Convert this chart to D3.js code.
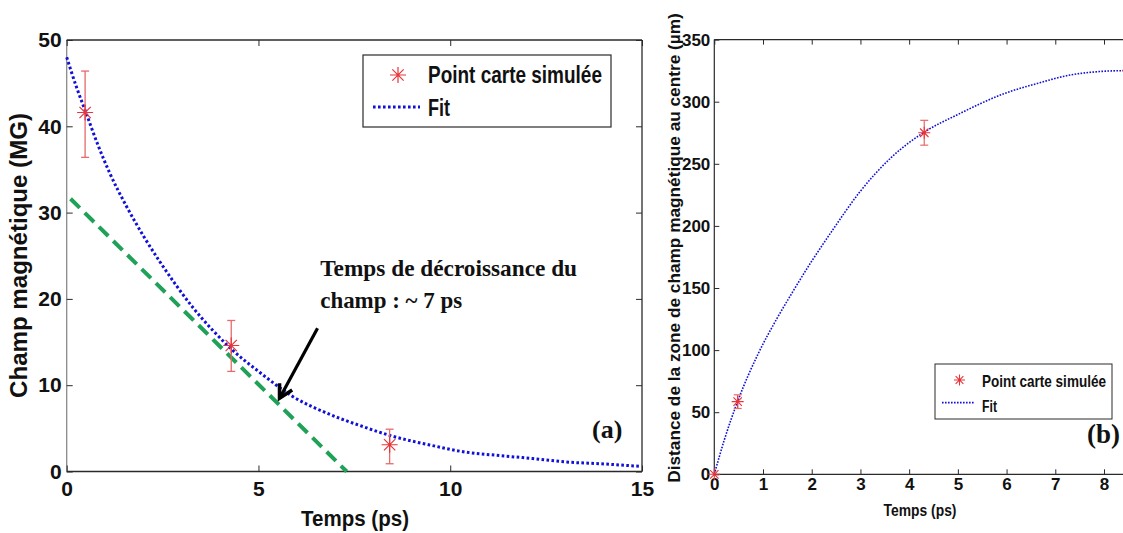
<!DOCTYPE html>
<html>
<head>
<meta charset="utf-8">
<script src="https://cdn.jsdelivr.net/npm/d3@7"></script>
<style>
  html, body { margin: 0; padding: 0; background: #fff; }
  svg { display: block; }
</style>
</head>
<body>
<svg id="chart" width="1123" height="533"></svg>
<script>
// ---------------- DATA ----------------
// Panel (a): magnetic field vs time
const pointTimeA  = [0.48, 4.29, 8.42];
const pointFieldA = [41.6, 14.6, 3.1];
const errLowA     = [36.4, 11.6, 0.9];
const errHighA    = [46.4, 17.5, 4.9];

const fitTimeA  = [0, 0.25, 0.5, 0.8, 1.13, 1.55, 2.0, 2.43, 2.85, 3.29, 3.8, 4.29, 5.03, 5.89, 6.76, 7.63, 8.41, 9.54, 10.4, 11.28, 12.15, 13.03, 13.9, 14.95];
const fitFieldA = [48.0, 44.6, 41.6, 38.0, 34.5, 30.8, 27.3, 24.3, 21.6, 19.0, 16.4, 14.2, 11.5, 8.7, 6.8, 5.35, 4.2, 3.0, 2.25, 1.85, 1.5, 1.1, 0.9, 0.6];

const tangentTimeA  = [0.1, 7.3];
const tangentFieldA = [31.6, 0];

const xTicksA = [0, 5, 10, 15];
const yTicksA = [0, 10, 20, 30, 40, 50];

// Panel (b): distance of the field zone from centre vs time
const pointTimeB = [0, 0.48, 4.31, 8.5];
const pointDistB = [0, 58.5, 275, 325];
const errLowB    = [null, 53, 265, null];
const errHighB   = [null, 64, 285, null];

const fitTimeB = [0, 0.2, 0.49, 0.9, 1.28, 1.58, 1.99, 2.4, 2.98, 3.63, 4.31, 4.99, 5.95, 6.63, 7.31, 7.99, 8.39];
const fitDistB = [0, 27, 59.8, 97, 125, 145, 171, 195, 227, 255, 275.5, 289.5, 306.5, 314.7, 321.5, 324.5, 325];

const xTicksB = [0, 1, 2, 3, 4, 5, 6, 7, 8];
const yTicksB = [0, 50, 100, 150, 200, 250, 300, 350];

// Texts
const legendLabels = ["Point carte simulée", "Fit"];
const xTitle = "Temps (ps)";
const yTitleA = "Champ magnétique (MG)";
const yTitleB = "Distance de la zone de champ magnétique au centre (µm)";
const annotationLines = ["Temps de décroissance du", "champ : ~ 7 ps"];

// ---------------- STYLE ----------------
const SANS = "'Liberation Sans Narrow','Arial Narrow','Liberation Sans',Arial,sans-serif";
const SERIF = "'Liberation Serif','Times New Roman',serif";
const AXIS = "#2a2a2a";
const RED = "#e8343a";
const ERR = "#e86a6a";
const BLUE = "#1010d8";
const GREEN = "#1fa257";

const svg = d3.select("#chart");
svg.append("rect").attr("width", 1123).attr("height", 533).attr("fill", "#fff");

function asterisk(g, cx, cy, r, color, w) {
  const d = r * Math.SQRT1_2;
  const p = `M${cx - r},${cy}L${cx + r},${cy}M${cx},${cy - r}L${cx},${cy + r}` +
            `M${cx - d},${cy - d}L${cx + d},${cy + d}M${cx - d},${cy + d}L${cx + d},${cy - d}`;
  g.append("path").attr("d", p).attr("stroke", color).attr("stroke-width", w).attr("fill", "none");
}

// text fitted to a target length through a horizontal scale
function fitText(parent, x, y, str, len, opt) {
  const rot = opt.rotate || 0;
  const g = parent.append("g");
  const t = g.append("text").attr("x", 0).attr("y", 0).text(str)
    .attr("font-family", opt.family).attr("font-weight", "bold").attr("font-size", opt.size)
    .attr("text-anchor", opt.anchor || "start").attr("fill", "#111");
  const natural = t.node().getComputedTextLength() || len;
  const s = len / natural;
  g.attr("transform", `translate(${x},${y}) rotate(${rot}) scale(${s},1)`);
  return g;
}

function styleTicks(g, size) {
  g.select(".domain").remove();
  g.selectAll(".tick line").attr("stroke", AXIS).attr("stroke-width", 1);
  g.selectAll(".tick text").attr("fill", "#111").attr("font-family", SANS)
    .attr("font-weight", "bold").attr("font-size", size);
}

// ================= PANEL (a) =================
const xA = d3.scaleLinear().domain([0, 15]).range([66.7, 642]);
const yA = d3.scaleLinear().domain([0, 50]).range([471.5, 40]);
const gA = svg.append("g");

gA.append("line").attr("x1", xA(0)).attr("x2", xA(0)).attr("y1", yA(0)).attr("y2", yA(50)).attr("stroke", "#8a8a8a").attr("stroke-width", 1.3);
gA.append("line").attr("x1", xA(0)).attr("x2", xA(15)).attr("y1", yA(0)).attr("y2", yA(0)).attr("stroke", AXIS).attr("stroke-width", 1.3);
gA.append("line").attr("x1", xA(0)).attr("x2", xA(15)).attr("y1", yA(50)).attr("y2", yA(50)).attr("stroke", AXIS).attr("stroke-width", 1.3);
gA.append("line").attr("x1", xA(15)).attr("x2", xA(15)).attr("y1", yA(0)).attr("y2", yA(50)).attr("stroke", AXIS).attr("stroke-width", 1.3);

const axBA = gA.append("g").attr("transform", `translate(0,${yA(0)})`)
  .call(d3.axisBottom(xA).tickValues(xTicksA).tickSizeInner(-6).tickSizeOuter(0).tickPadding(10).tickFormat(d3.format("d")));
styleTicks(axBA, 21);
const axLA = gA.append("g").attr("transform", `translate(${xA(0)},0)`)
  .call(d3.axisLeft(yA).tickValues(yTicksA).tickSizeInner(-6).tickSizeOuter(0).tickPadding(5).tickFormat(d3.format("d")));
styleTicks(axLA, 21);
const axTA = gA.append("g").attr("transform", `translate(0,${yA(50)})`)
  .call(d3.axisTop(xA).tickValues(xTicksA).tickSizeInner(-6).tickSizeOuter(0).tickFormat(""));
styleTicks(axTA, 0);
const axRA = gA.append("g").attr("transform", `translate(${xA(15)},0)`)
  .call(d3.axisRight(yA).tickValues(yTicksA).tickSizeInner(-6).tickSizeOuter(0).tickFormat(""));
styleTicks(axRA, 0);

gA.append("path")
  .attr("d", d3.line().x((d, i) => xA(tangentTimeA[i])).y((d, i) => yA(tangentFieldA[i]))(tangentTimeA))
  .attr("stroke", GREEN).attr("stroke-width", 4).attr("stroke-dasharray", "13,7").attr("fill", "none");

gA.append("path")
  .attr("d", d3.line().curve(d3.curveMonotoneX).x((d, i) => xA(fitTimeA[i])).y((d, i) => yA(fitFieldA[i]))(fitTimeA))
  .attr("stroke", BLUE).attr("stroke-width", 3).attr("stroke-dasharray", "2.6,2.4").attr("fill", "none");

pointTimeA.forEach((t, i) => {
  const cx = xA(t);
  gA.append("line").attr("x1", cx).attr("x2", cx).attr("y1", yA(errLowA[i])).attr("y2", yA(errHighA[i])).attr("stroke", ERR).attr("stroke-width", 1.3);
  [errLowA[i], errHighA[i]].forEach(v => {
    gA.append("line").attr("x1", cx - 4).attr("x2", cx + 4).attr("y1", yA(v)).attr("y2", yA(v)).attr("stroke", ERR).attr("stroke-width", 1.3);
  });
  asterisk(gA, cx, yA(pointFieldA[i]), 8, RED, 1.2);
});

const arrowFrom = [6.54, 16.6], arrowTo = [5.55, 8.5];
{
  const x1 = xA(arrowFrom[0]), y1 = yA(arrowFrom[1]), x2 = xA(arrowTo[0]), y2 = yA(arrowTo[1]);
  gA.append("line").attr("x1", x1).attr("y1", y1).attr("x2", x2).attr("y2", y2).attr("stroke", "#000").attr("stroke-width", 3.2);
  const ang = Math.atan2(y1 - y2, x1 - x2), L = 15, a = 0.5;
  const p = `M${x2 + L * Math.cos(ang - a)},${y2 + L * Math.sin(ang - a)}L${x2},${y2}L${x2 + L * Math.cos(ang + a)},${y2 + L * Math.sin(ang + a)}`;
  gA.append("path").attr("d", p).attr("stroke", "#000").attr("stroke-width", 3.6).attr("fill", "none").attr("stroke-linejoin", "miter");
}
const annotX = 6.61, annotY = [22.7, 18.9], annotLen = [257, 142];
annotationLines.forEach((s, i) => {
  fitText(gA, xA(annotX), yA(annotY[i]), s, annotLen[i], { family: SERIF, size: 24 });
});
gA.append("text").attr("x", 592).attr("y", 438).text("(a)")
  .attr("font-family", SERIF).attr("font-weight", "bold").attr("font-size", 26).attr("fill", "#111");

{
  const lg = gA.append("g");
  lg.append("rect").attr("x", 363).attr("y", 55).attr("width", 248).attr("height", 72).attr("fill", "#fff").attr("stroke", AXIS).attr("stroke-width", 1.2);
  asterisk(lg, 398, 75, 8, RED, 1.2);
  lg.append("line").attr("x1", 373).attr("x2", 420).attr("y1", 107).attr("y2", 107).attr("stroke", BLUE).attr("stroke-width", 3).attr("stroke-dasharray", "2.6,2.4");
  fitText(lg, 428, 83, legendLabels[0], 174, { family: SANS, size: 23 });
  fitText(lg, 428, 116, legendLabels[1], 22, { family: SANS, size: 23 });
}

fitText(gA, 355, 526, xTitle, 108, { family: SANS, size: 22, anchor: "middle" });
fitText(gA, 27, 255.5, yTitleA, 285, { family: SANS, size: 24, anchor: "middle", rotate: -90 });

// ================= PANEL (b) =================
const xB = d3.scaleLinear().domain([0, 8]).range([714.3, 1104]);
const yB = d3.scaleLinear().domain([0, 350]).range([474.3, 39.6]);
const gB = svg.append("g");
const xEndB = 1123;

gB.append("line").attr("x1", xB(0)).attr("x2", xB(0)).attr("y1", yB(0)).attr("y2", yB(350)).attr("stroke", AXIS).attr("stroke-width", 1.2);
gB.append("line").attr("x1", xB(0)).attr("x2", xEndB).attr("y1", yB(0)).attr("y2", yB(0)).attr("stroke", AXIS).attr("stroke-width", 1.2);
gB.append("line").attr("x1", xB(0)).attr("x2", xEndB).attr("y1", yB(350)).attr("y2", yB(350)).attr("stroke", AXIS).attr("stroke-width", 1.2);

const axBB = gB.append("g").attr("transform", `translate(0,${yB(0)})`)
  .call(d3.axisBottom(xB).tickValues(xTicksB).tickSizeInner(-5).tickSizeOuter(0).tickPadding(4).tickFormat(d3.format("d")));
styleTicks(axBB, 17);
const axLB = gB.append("g").attr("transform", `translate(${xB(0)},0)`)
  .call(d3.axisLeft(yB).tickValues(yTicksB).tickSizeInner(-5).tickSizeOuter(0).tickPadding(4).tickFormat(d3.format("d")));
styleTicks(axLB, 17);
const axTB = gB.append("g").attr("transform", `translate(0,${yB(350)})`)
  .call(d3.axisTop(xB).tickValues(xTicksB).tickSizeInner(-5).tickSizeOuter(0).tickFormat(""));
styleTicks(axTB, 0);

gB.append("path")
  .attr("d", d3.line().curve(d3.curveMonotoneX).x((d, i) => xB(fitTimeB[i])).y((d, i) => yB(fitDistB[i]))(fitTimeB))
  .attr("stroke", BLUE).attr("stroke-width", 1.6).attr("stroke-dasharray", "1.6,1.4").attr("fill", "none");

pointTimeB.forEach((t, i) => {
  const cx = xB(t);
  if (errLowB[i] !== null) {
    gB.append("line").attr("x1", cx).attr("x2", cx).attr("y1", yB(errLowB[i])).attr("y2", yB(errHighB[i])).attr("stroke", ERR).attr("stroke-width", 1.2);
    [errLowB[i], errHighB[i]].forEach(v => {
      gB.append("line").attr("x1", cx - 4).attr("x2", cx + 4).attr("y1", yB(v)).attr("y2", yB(v)).attr("stroke", ERR).attr("stroke-width", 1.2);
    });
  }
  asterisk(gB, cx, yB(pointDistB[i]), 6, RED, 1.1);
});

{
  const lg = gB.append("g");
  lg.append("rect").attr("x", 935).attr("y", 364).attr("width", 177).attr("height", 55).attr("fill", "#fff").attr("stroke", AXIS).attr("stroke-width", 1);
  asterisk(lg, 959.5, 380, 5.5, RED, 1.1);
  lg.append("line").attr("x1", 942).attr("x2", 975).attr("y1", 402.7).attr("y2", 402.7).attr("stroke", BLUE).attr("stroke-width", 1.8).attr("stroke-dasharray", "1.6,1.4");
  fitText(lg, 982, 387, legendLabels[0], 124, { family: SANS, size: 16.5 });
  fitText(lg, 982, 411.5, legendLabels[1], 15, { family: SANS, size: 16.5 });
}
gB.append("text").attr("x", 1087).attr("y", 443).text("(b)")
  .attr("font-family", SERIF).attr("font-weight", "bold").attr("font-size", 27).attr("fill", "#111");

fitText(gB, 920, 516, xTitle, 73, { family: SANS, size: 17, anchor: "middle" });
fitText(gB, 680, 248, yTitleB, 470, { family: SANS, size: 16.5, anchor: "middle", rotate: -90 });
</script>
</body>
</html>
